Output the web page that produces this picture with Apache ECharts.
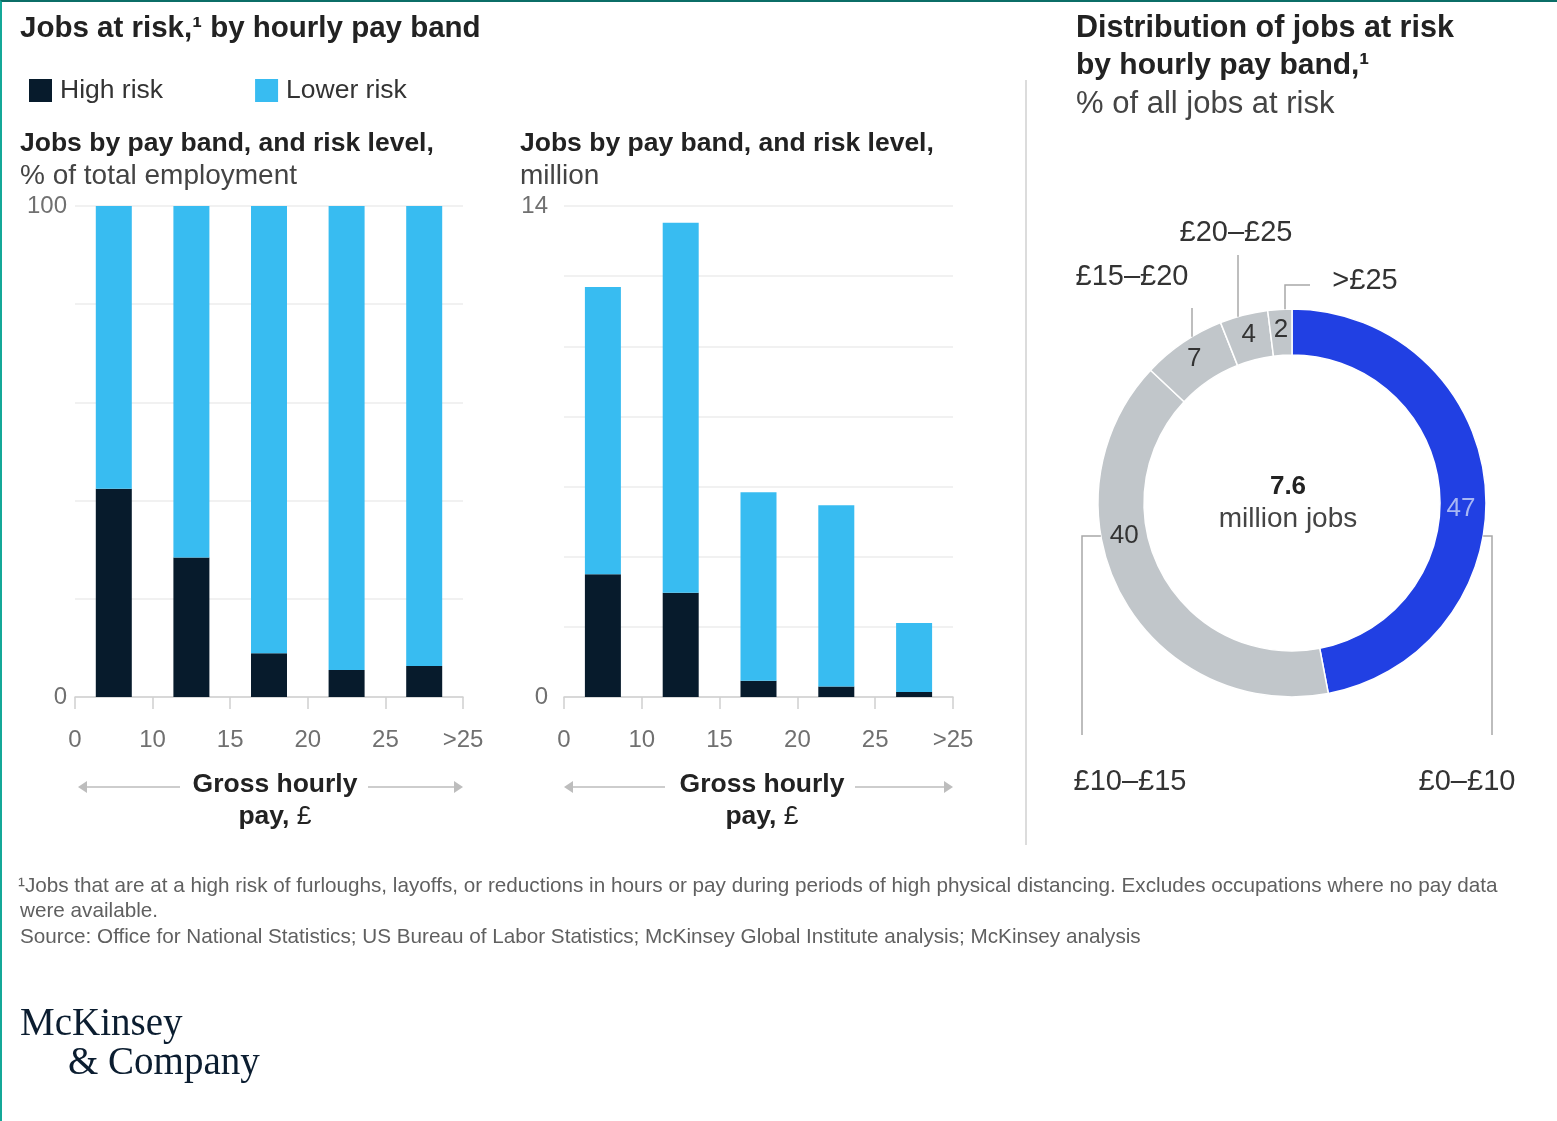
<!DOCTYPE html>
<html>
<head>
<meta charset="utf-8">
<script src="https://cdn.jsdelivr.net/npm/echarts@6/dist/echarts.min.js"></script>
<style>
html,body{margin:0;padding:0;background:#fff;}
#frame{position:absolute;left:0;top:0;width:1557px;height:1121px;box-sizing:border-box;border-top:2px solid #0b6e67;border-left:2px solid #14a898;pointer-events:none;}
#chart{position:absolute;left:0;top:0;width:1557px;height:1121px;}
</style>
</head>
<body>
<div id="chart"></div>
<div id="frame"></div>
<script>
// ---- data ----
const categories = ['£0–£10', '£10–£15', '£15–£20', '£20–£25', '>£25'];
const tickLabels = ['0', '10', '15', '20', '25', '>25'];
const highRiskPct = [42.4, 28.4, 8.9, 5.5, 6.3];
const lowerRiskPct = [57.6, 71.6, 91.1, 94.5, 93.7];
const highRiskMillion = [3.5, 2.97, 0.46, 0.30, 0.14];
const lowerRiskMillion = [8.19, 10.55, 5.38, 5.17, 1.97];
const shareOfAtRisk = [47, 40, 7, 4, 2];
const totalAtRiskMillion = '7.6';

// ---- styles ----
const FONT = "'Liberation Sans', Arial, sans-serif";
const DARK = '#071b2c';
const LIGHT = '#38bcf1';
const BLUE = '#2140e3';
const GREY = '#c1c6ca';
const cx = 1292, cy = 503, rIn = 148, rOut = 194;

const chart = echarts.init(document.getElementById('chart'));

function xValueAxis(gi) {
  return {
    type: 'value', gridIndex: gi, min: 0, max: 5, interval: 1, position: 'bottom',
    axisLine: {show: true, lineStyle: {color: '#d0d0d0', width: 1.5}},
    axisTick: {show: true, length: 12, lineStyle: {color: '#d0d0d0', width: 1.5}},
    splitLine: {show: false},
    axisLabel: {margin: 31, fontSize: 24, color: '#707070', fontFamily: FONT,
      formatter: v => tickLabels[Math.round(v)]}
  };
}
function xCatAxis(gi) {
  return {type: 'category', gridIndex: gi, data: categories, show: false, boundaryGap: true};
}
function yAxis(gi, max, interval, margin) {
  return {
    type: 'value', gridIndex: gi, min: 0, max: max, interval: interval,
    axisLine: {show: false}, axisTick: {show: false},
    splitLine: {lineStyle: {color: '#ececec', width: 1.5}},
    axisLabel: {margin: margin, fontSize: 24, color: '#707070', fontFamily: FONT,
      formatter: v => (v === 0 || v === max) ? String(v) : ''}
  };
}

const pieLabelPos = [
  {x: 1467, y: 782},
  {x: 1130, y: 782},
  {x: 1132, y: 277},
  {x: 1236, y: 233},
  {x: 1365, y: 281}
];
function edgeY(x) { return cy - Math.sqrt(rOut * rOut - (x - cx) * (x - cx)); }
function nameLayout(p) {
  const i = p.dataIndex;
  const pos = pieLabelPos[i];
  let pts;
  if (i === 0) {
    const y = cy + 33, x0 = cx + Math.sqrt(rOut * rOut - 33 * 33);
    pts = [[x0, y], [1492, y], [1492, 735]];
  } else if (i === 1) {
    const y = cy + 33, x0 = cx - Math.sqrt(rOut * rOut - 33 * 33);
    pts = [[x0, y], [1082, y], [1082, 735]];
  } else if (i === 2) {
    pts = [[1192, edgeY(1192)], [1192, 320], [1192, 308]];
  } else if (i === 3) {
    pts = [[1238, edgeY(1238)], [1238, 280], [1238, 255]];
  } else {
    pts = [[1285, edgeY(1285)], [1285, 285], [1310, 285]];
  }
  return {x: pos.x, y: pos.y, align: 'center', verticalAlign: 'middle', labelLinePoints: pts};
}
function valueLayout(p) {
  const rMid = (rIn + rOut) / 2;
  if (p.dataIndex === 0) {
    return {x: cx + Math.sqrt(rMid * rMid - 36) - 2, y: cy + 6, align: 'center', verticalAlign: 'middle'};
  }
  if (p.dataIndex === 1) {
    return {x: cx - Math.sqrt(rMid * rMid - 33 * 33), y: cy + 33, align: 'center', verticalAlign: 'middle'};
  }
  return {};
}

function txt(x, y, text, size, weight, color, align) {
  return {type: 'text', x: x, y: y, silent: true,
    style: {text: text, fontSize: size, fontWeight: weight || 'normal', fontFamily: FONT,
      fill: color || '#222', align: align || 'left', textAlign: align || 'left',
      verticalAlign: 'middle', textVerticalAlign: 'middle'}};
}
function arrowPair(x0, x1, gapL, gapR, y) {
  const c = '#bdbdbd';
  return [
    {type: 'line', silent: true, shape: {x1: x0 + 6, y1: y, x2: gapL, y2: y}, style: {stroke: c, lineWidth: 1.5}},
    {type: 'polygon', silent: true, shape: {points: [[x0, y], [x0 + 9, y - 6], [x0 + 9, y + 6]]}, style: {fill: c}},
    {type: 'line', silent: true, shape: {x1: gapR, y1: y, x2: x1 - 6, y2: y}, style: {stroke: c, lineWidth: 1.5}},
    {type: 'polygon', silent: true, shape: {points: [[x1, y], [x1 - 9, y - 6], [x1 - 9, y + 6]]}, style: {fill: c}}
  ];
}
function payText(x) {
  return {type: 'text', x: x, y: 817, silent: true,
    style: {text: '{b|pay, }{n|£}', fontFamily: FONT, align: 'center', textAlign: 'center',
      verticalAlign: 'middle', textVerticalAlign: 'middle',
      rich: {b: {fontSize: 26.5, fontWeight: 'bold', fill: '#222', color: '#222', fontFamily: FONT},
             n: {fontSize: 26.5, fontWeight: 'normal', fill: '#222', color: '#222', fontFamily: FONT}}}};
}

const option = {
  backgroundColor: '#ffffff',
  animation: false,
  textStyle: {fontFamily: FONT},
  legend: {
    data: ['High risk', 'Lower risk'], left: 24, top: 72, icon: 'rect',
    itemWidth: 23, itemHeight: 23, itemGap: 92,
    textStyle: {fontSize: 26.5, color: '#333', fontFamily: FONT, padding: [0, 0, 0, 3]}
  },
  grid: [
    {left: 75, right: 1557 - 463, top: 206, bottom: 1121 - 697, containLabel: false},
    {left: 564, right: 1557 - 953, top: 206, bottom: 1121 - 697, containLabel: false}
  ],
  xAxis: [xCatAxis(0), xValueAxis(0), xCatAxis(1), xValueAxis(1)],
  yAxis: [yAxis(0, 100, 20, 8), yAxis(1, 14, 2, 16)],
  series: [
    {name: 'High risk', type: 'bar', stack: 'pct', xAxisIndex: 0, yAxisIndex: 0, barWidth: 36,
      itemStyle: {color: DARK}, data: highRiskPct},
    {name: 'Lower risk', type: 'bar', stack: 'pct', xAxisIndex: 0, yAxisIndex: 0, barWidth: 36,
      itemStyle: {color: LIGHT}, data: lowerRiskPct},
    {name: 'High risk', type: 'bar', stack: 'mil', xAxisIndex: 2, yAxisIndex: 1, barWidth: 36,
      itemStyle: {color: DARK}, data: highRiskMillion},
    {name: 'Lower risk', type: 'bar', stack: 'mil', xAxisIndex: 2, yAxisIndex: 1, barWidth: 36,
      itemStyle: {color: LIGHT}, data: lowerRiskMillion},
    {
      name: 'share', type: 'pie', center: [cx, cy], radius: [rIn, rOut], startAngle: 90, clockwise: true,
      silent: true,
      itemStyle: {color: p => p.dataIndex === 0 ? BLUE : GREY, borderColor: '#ffffff', borderWidth: 1.5},
      label: {show: true, position: 'inside', formatter: '{c}', fontSize: 26, fontFamily: FONT,
        color: '#333'},
      labelLine: {show: false},
      labelLayout: valueLayout,
      data: shareOfAtRisk.map((v, i) => ({value: v, name: categories[i],
        label: i === 0 ? {color: '#a8b7f4'} : {}}))
    },
    {
      name: 'names', type: 'pie', center: [cx, cy], radius: [rIn, rOut], startAngle: 90, clockwise: true,
      silent: true, z: 5, avoidLabelOverlap: false,
      itemStyle: {color: 'rgba(0,0,0,0)', borderWidth: 0},
      label: {show: true, position: 'outside', formatter: '{b}', fontSize: 29, fontFamily: FONT, color: '#333',
        overflow: 'none', edgeDistance: 0, bleedMargin: 0},
      labelLine: {show: true, lineStyle: {color: '#a8a8a8', width: 1.5}},
      labelLayout: nameLayout,
      data: shareOfAtRisk.map((v, i) => ({value: v, name: categories[i]}))
    }
  ],
  graphic: [
    txt(20, 29, 'Jobs at risk,¹ by hourly pay band', 29.5, 'bold', '#222'),
    txt(20, 144, 'Jobs by pay band, and risk level,', 26.5, 'bold', '#222'),
    txt(20, 176, '% of total employment', 28, 'normal', '#444'),
    txt(520, 144, 'Jobs by pay band, and risk level,', 26.5, 'bold', '#222'),
    txt(520, 176, 'million', 28, 'normal', '#444'),
    txt(1076, 29, 'Distribution of jobs at risk', 30.5, 'bold', '#222'),
    txt(1076, 66, 'by hourly pay band,¹', 30, 'bold', '#222'),
    txt(1076, 104, '% of all jobs at risk', 31, 'normal', '#444'),
    {type: 'line', silent: true, shape: {x1: 1026, y1: 80, x2: 1026, y2: 845}, style: {stroke: '#dcdcdc', lineWidth: 2}},
    txt(1288, 487, totalAtRiskMillion, 26, 'bold', '#222', 'center'),
    txt(1288, 519, 'million jobs', 28, 'normal', '#444', 'center'),
    txt(275, 785, 'Gross hourly', 26.5, 'bold', '#222', 'center'),
    payText(275),
    txt(762, 785, 'Gross hourly', 26.5, 'bold', '#222', 'center'),
    payText(762),
    ...arrowPair(78, 463, 180, 368, 787),
    ...arrowPair(564, 953, 665, 855, 787),
    txt(18, 886, '¹Jobs that are at a high risk of furloughs, layoffs, or reductions in hours or pay during periods of high physical distancing. Excludes occupations where no pay data', 20.7, 'normal', '#606060'),
    txt(20, 911, 'were available.', 20.7, 'normal', '#606060'),
    txt(20, 937, 'Source: Office for National Statistics; US Bureau of Labor Statistics; McKinsey Global Institute analysis; McKinsey analysis', 20.7, 'normal', '#606060'),
    {type: 'text', x: 20, y: 1025, silent: true, style: {text: 'McKinsey', fontSize: 39, fontFamily: "'Liberation Serif', 'DejaVu Serif', serif", fill: '#0b1d30', align: 'left', textAlign: 'left', verticalAlign: 'middle', textVerticalAlign: 'middle'}},
    {type: 'text', x: 68, y: 1064, silent: true, style: {text: '& Company', fontSize: 39, fontFamily: "'Liberation Serif', 'DejaVu Serif', serif", fill: '#0b1d30', align: 'left', textAlign: 'left', verticalAlign: 'middle', textVerticalAlign: 'middle'}}
  ]
};
chart.setOption(option);
</script>
</body>
</html>
